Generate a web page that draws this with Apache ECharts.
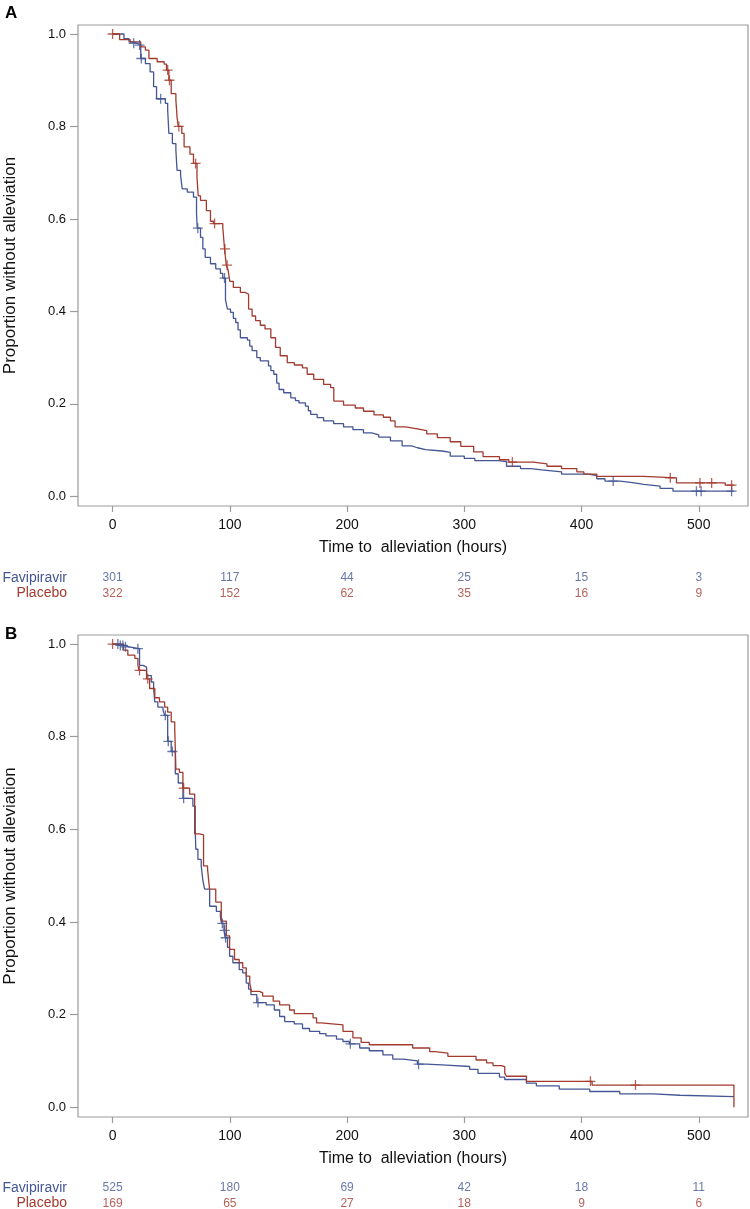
<!DOCTYPE html>
<html><head><meta charset="utf-8">
<script src="https://cdn.jsdelivr.net/npm/echarts@6/dist/echarts.min.js"></script>
<style>html,body{margin:0;padding:0;background:#fff}#c{width:750px;height:1209px}</style>
</head><body><div id="c"></div>
<script>
// ---- data ----
const xTicks = [0, 100, 200, 300, 400, 500];
const yTicks = [0, 0.2, 0.4, 0.6, 0.8, 1.0];
const groups = ['Favipiravir', 'Placebo'];
const riskTimes = [0, 100, 200, 300, 400, 500];

// Panel A
const aFav = [[0,1],[9.7,0.99],[14,0.983],[16,0.98],[21,0.976],[24,0.947],[28,0.936],[32,0.918],[35,0.886],[37.5,0.86],[45,0.85],[47,0.835],[48,0.785],[51,0.763],[54,0.748],[55,0.705],[58,0.694],[59.4,0.665],[63.7,0.658],[69,0.647],[71.6,0.611],[72.2,0.58],[75,0.56],[77,0.535],[79,0.517],[83.5,0.503],[88,0.492],[92,0.482],[94,0.472],[96.3,0.425],[98,0.405],[100.6,0.398],[103,0.385],[105,0.376],[107,0.36],[109,0.343],[115,0.338],[117,0.325],[119,0.315],[123,0.3],[126,0.293],[133,0.282],[135,0.272],[137.5,0.264],[140,0.245],[142,0.231],[146,0.224],[152,0.213],[156,0.207],[159,0.202],[164.5,0.195],[167,0.185],[169,0.177],[174.5,0.17],[180,0.163],[188.6,0.157],[197,0.15],[205,0.144],[214,0.137],[221,0.133],[227,0.128],[237,0.12],[247,0.109],[255,0.105],[260,0.101],[267,0.098],[281,0.095],[288,0.087],[300,0.082],[309,0.077],[329,0.075],[336,0.065],[348,0.06],[357,0.057],[366,0.053],[383,0.048],[406,0.045],[413,0.038],[420,0.033],[433,0.029],[445,0.026],[453,0.022],[467,0.017],[478,0.011],[530,0.011]];
const aPla = [[0,1],[6,0.988],[15,0.983],[24,0.972],[28,0.965],[31,0.947],[38,0.94],[44,0.935],[46,0.922],[48,0.9],[50,0.871],[54,0.857],[55,0.82],[56,0.80],[59,0.785],[61,0.756],[66,0.74],[69,0.72],[72,0.69],[73,0.65],[75,0.64],[80,0.618],[83.5,0.595],[86,0.59],[94,0.582],[95.5,0.535],[97,0.50],[98.5,0.49],[100,0.465],[103,0.452],[109,0.441],[113,0.437],[116,0.405],[119,0.39],[122,0.38],[126,0.37],[130,0.362],[135,0.343],[139,0.322],[143,0.304],[149,0.289],[155,0.284],[162,0.278],[166,0.264],[171.6,0.253],[180,0.242],[186,0.235],[188.7,0.206],[197,0.197],[207,0.191],[214,0.184],[223,0.176],[231,0.171],[237,0.163],[241,0.15],[250,0.146],[260,0.142],[268,0.135],[277,0.127],[288,0.118],[297,0.108],[308,0.096],[316,0.086],[330,0.079],[338,0.074],[359,0.07],[370.5,0.065],[383,0.06],[396,0.053],[402,0.048],[413,0.043],[453,0.04],[481,0.029],[522.6,0.024],[530,0.024]];
const aFavCens = [18, 23, 24.5, 41, 72.7, 95.5, 427, 498, 502, 528];
const aPlaCens = [0, 47, 48.5, 56.5, 70.8, 87, 95.8, 97.7, 341, 475.7, 501, 511, 528];
const aRiskFav = [301, 117, 44, 25, 15, 3];
const aRiskPla = [322, 152, 62, 35, 16, 9];

// Panel B
const bFav = [[0,1],[5.5,0.997],[10,0.994],[14,0.99],[23,0.954],[26,0.95],[29,0.932],[33,0.918],[35,0.904],[36,0.875],[38.6,0.864],[43,0.857],[44.5,0.846],[47,0.79],[50,0.768],[53.5,0.72],[56,0.70],[60,0.667],[68.5,0.65],[70.5,0.60],[71,0.557],[72.8,0.535],[75.6,0.521],[77,0.49],[78.5,0.471],[82.8,0.434],[88.5,0.423],[92,0.41],[93,0.397],[95,0.382],[96,0.366],[98,0.345],[99.8,0.326],[102.6,0.312],[108,0.297],[111,0.29],[114,0.268],[116,0.255],[118,0.243],[123,0.226],[131,0.221],[138,0.21],[142.5,0.196],[146.8,0.185],[155,0.18],[162,0.17],[168,0.164],[176.6,0.159],[182,0.154],[191,0.147],[196.5,0.142],[202,0.137],[210.8,0.128],[219,0.122],[230.6,0.113],[239,0.104],[248,0.1],[260,0.093],[267.7,0.091],[284.7,0.088],[304.6,0.082],[311.7,0.073],[330,0.065],[334.5,0.06],[353,0.052],[361.5,0.046],[381,0.039],[407,0.034],[432.6,0.029],[461,0.026],[484,0.023],[530,0.023]];
const bPla = [[0,1],[9.3,0.987],[13,0.976],[19,0.969],[21.6,0.954],[22.5,0.943],[29,0.925],[31.6,0.904],[36,0.884],[40,0.875],[44.4,0.864],[47,0.853],[50,0.832],[53,0.817],[54,0.73],[57,0.723],[60,0.689],[65.7,0.676],[70,0.59],[74,0.588],[77.6,0.521],[81,0.514],[82.7,0.471],[88,0.443],[92.7,0.402],[97,0.37],[99.8,0.341],[104,0.319],[108,0.312],[111,0.301],[114,0.283],[117,0.268],[118.4,0.25],[125.4,0.247],[128,0.24],[137,0.229],[142.5,0.221],[151,0.21],[155,0.202],[171,0.193],[174,0.182],[178,0.178],[196.5,0.164],[205,0.15],[212,0.14],[219,0.135],[256,0.128],[270.5,0.12],[275,0.117],[286,0.11],[310,0.102],[319,0.096],[324.5,0.09],[331.6,0.088],[334.5,0.073],[336,0.067],[353,0.056],[409,0.048],[530,0]];
const bFavCens = [4.5, 6.6, 8.8, 11, 21.6, 45, 47.5, 51, 60.6, 93.6, 95.6, 96.4, 124, 202.8, 261];
const bPlaCens = [0, 23, 30, 60.6, 407.6, 446];
const bRiskFav = [525, 180, 69, 42, 18, 11];
const bRiskPla = [169, 65, 27, 18, 9, 6];

// ---- styles ----
const BLUE = '#445694', RED = '#A23A2E', AXC = '#9b9b9b';
const FONT = '"Liberation Sans", Arial, sans-serif';
const PLUS = 'path://M4.35,0H5.65V4.35H10V5.65H5.65V10H4.35V5.65H0V4.35H4.35Z';
const XMIN = -29.5, XMAX = 542, YMIN = -0.021, YMAX = 1.0195;

function survAt(curve, t) {
  let s = curve[0][1];
  for (const p of curve) { if (p[0] <= t) s = p[1]; else break; }
  return s;
}
const cens = (curve, times) => times.map(t => [t, survAt(curve, t)]);

const panels = [
  {top: 25, height: 481, riskTop: 570, fav: aFav, pla: aPla, favC: aFavCens, plaC: aPlaCens, rf: aRiskFav, rp: aRiskPla},
  {top: 635, height: 482, riskTop: 1180, fav: bFav, pla: bPla, favC: bFavCens, plaC: bPlaCens, rf: bRiskFav, rp: bRiskPla}
];

const grid = [], xAxis = [], yAxis = [], series = [];
panels.forEach((p, i) => {
  const gi = grid.length;
  grid.push({left: 78, top: p.top, width: 670, height: p.height, show: true, borderColor: AXC, borderWidth: 1.2,
    backgroundColor: '#fff', containLabel: false, outerBoundsMode: 'none'});
  xAxis.push({type: 'value', gridIndex: gi, min: XMIN, max: XMAX, position: 'bottom',
    axisLine: {show: false, onZero: false}, splitLine: {show: false},
    axisTick: {show: true, customValues: xTicks, length: 6, lineStyle: {color: AXC, width: 1.2}},
    axisLabel: {customValues: xTicks, margin: 12, color: '#111', fontFamily: FONT, fontSize: 14},
    name: 'Time to  alleviation (hours)', nameLocation: 'middle', nameGap: 34,
    nameTextStyle: {color: '#111', fontFamily: FONT, fontSize: 16}});
  yAxis.push({type: 'value', gridIndex: gi, min: YMIN, max: YMAX, position: 'left',
    axisLine: {show: false, onZero: false}, splitLine: {show: false},
    axisTick: {show: true, customValues: yTicks, length: 8, lineStyle: {color: AXC, width: 1.2}},
    axisLabel: {customValues: yTicks, margin: 12, color: '#111', fontFamily: FONT, fontSize: 13, formatter: v => v.toFixed(1)},
    name: 'Proportion without alleviation', nameLocation: 'middle', nameGap: 59,
    nameTextStyle: {color: '#111', fontFamily: FONT, fontSize: 17}});
  const line = (data, color) => ({type: 'line', xAxisIndex: gi, yAxisIndex: gi, data, step: 'end', showSymbol: false, symbol: 'none',
    lineStyle: {color, width: 1.3}, silent: true, z: 2});
  const mark = (data, color) => ({type: 'scatter', xAxisIndex: gi, yAxisIndex: gi, data, symbol: PLUS, symbolSize: 10,
    itemStyle: {color}, silent: true, z: 3});
  series.push(line(p.fav, BLUE), line(p.pla, RED), mark(cens(p.fav, p.favC), BLUE), mark(cens(p.pla, p.plaC), RED));

  // risk table
  const ri = grid.length;
  grid.push({left: 78, top: p.riskTop, width: 670, height: 31, show: false, containLabel: false, outerBoundsMode: 'none'});
  xAxis.push({type: 'value', gridIndex: ri, min: XMIN, max: XMAX, show: false});
  yAxis.push({type: 'category', gridIndex: ri, data: groups, inverse: true, position: 'left',
    axisLine: {show: false, onZero: false}, axisTick: {show: false}, splitLine: {show: false},
    axisLabel: {interval: 0, margin: 11, fontFamily: FONT, fontSize: 14,
      formatter: v => v === 'Favipiravir' ? '{f|' + v + '}' : '{p|' + v + '}',
      rich: {f: {color: BLUE, fontFamily: FONT, fontSize: 14}, p: {color: RED, fontFamily: FONT, fontSize: 14}}}});
  const risk = (vals, g, color) => ({type: 'scatter', xAxisIndex: ri, yAxisIndex: ri, symbolSize: 1,
    itemStyle: {color: 'rgba(0,0,0,0)'}, silent: true,
    data: riskTimes.map((t, k) => [t, g, vals[k]]),
    label: {show: true, position: 'inside', formatter: d => String(d.value[2]), color, fontFamily: FONT, fontSize: 12}});
  series.push(risk(p.rf, 'Favipiravir', BLUE), risk(p.rp, 'Placebo', RED));
});

const chart = echarts.init(document.getElementById('c'), null, {renderer: 'canvas'});
chart.setOption({
  animation: false, backgroundColor: '#fff',
  grid, xAxis, yAxis, series,
  graphic: [
    {type: 'text', left: 5, top: 5, style: {text: 'A', font: 'bold 17px ' + FONT, fill: '#000'}},
    {type: 'text', left: 5, top: 626, style: {text: 'B', font: 'bold 17px ' + FONT, fill: '#000'}}
  ]
});
</script></body></html>
